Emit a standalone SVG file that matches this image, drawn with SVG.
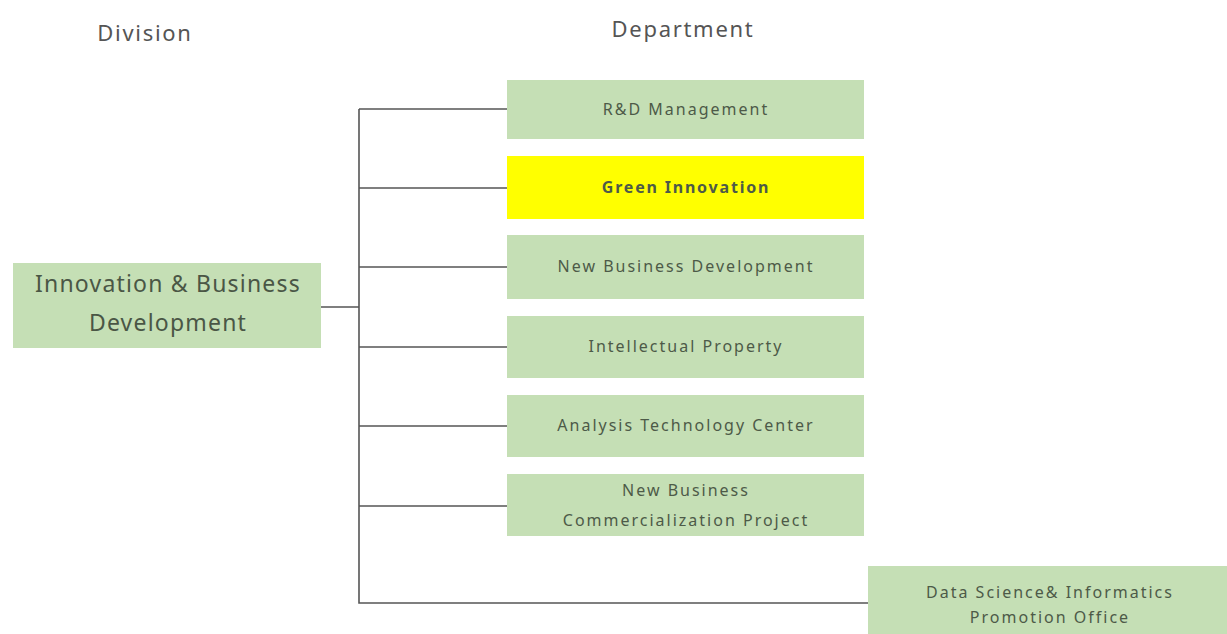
<svg xmlns="http://www.w3.org/2000/svg" width="1227" height="634" viewBox="0 0 1227 634">
<style>
.box{fill:#c5dfb5}
.hl{fill:#ffff00}
.t{font-family:"Noto Sans","Liberation Sans",sans-serif;fill:#555;text-anchor:middle}
.tb{font-size:16px;fill:#4d5a48;letter-spacing:2px}
.hdr{font-size:22px;fill:#555;letter-spacing:1.7px}
.big{font-size:23px;fill:#4a5645;letter-spacing:1.2px}
.conn{stroke:#555;stroke-width:1.6;fill:none}
</style>
<rect width="1227" height="634" fill="#fff"/>
<text class="t hdr" x="145" y="41">Division</text>
<text class="t hdr" x="683" y="37">Department</text>
<g id="connectors">
<path class="conn" d="M321 307H359M359 109V603H868M359 109H507M359 188H507M359 267H507M359 347H507M359 426H507M359 506H507"/>
</g>
<g id="division">
<rect class="box" x="13" y="263" width="308" height="85"/>
<text class="t big" x="168" y="292">Innovation &amp; Business</text>
<text class="t big" x="168" y="331">Development</text>
</g>
<g id="rd">
<rect class="box" x="507" y="80" width="357" height="59"/>
<text class="t tb" x="686" y="115">R&amp;D Management</text>
</g>
<g id="green">
<rect class="hl" x="507" y="156" width="357" height="63"/>
<text class="t tb" x="686" y="193" font-weight="bold" fill="#333" style="letter-spacing:1.8px">Green Innovation</text>
</g>
<g id="nbd">
<rect class="box" x="507" y="235" width="357" height="64"/>
<text class="t tb" x="686" y="272">New Business Development</text>
</g>
<g id="ip">
<rect class="box" x="507" y="316" width="357" height="62"/>
<text class="t tb" x="686" y="352">Intellectual Property</text>
</g>
<g id="atc">
<rect class="box" x="507" y="395" width="357" height="62"/>
<text class="t tb" x="686" y="431">Analysis Technology Center</text>
</g>
<g id="nbcp">
<rect class="box" x="507" y="474" width="357" height="62"/>
<text class="t tb" x="686" y="496">New Business</text>
<text class="t tb" x="686" y="526">Commercialization Project</text>
</g>
<g id="dsi">
<rect class="box" x="868" y="566" width="359" height="68"/>
<text class="t tb" x="1050" y="598">Data Science&amp; Informatics</text>
<text class="t tb" x="1050" y="623">Promotion Office</text>
</g>
</svg>
